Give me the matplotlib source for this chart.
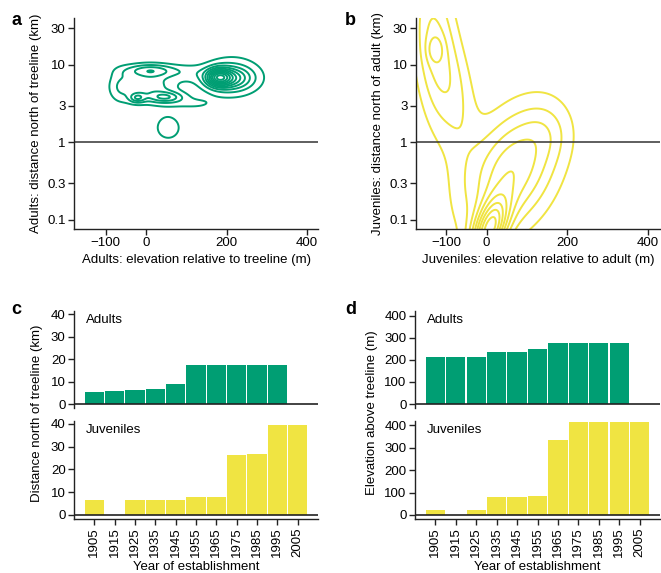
import numpy as np
import matplotlib
matplotlib.use("Agg")
import matplotlib.pyplot as plt
from matplotlib.ticker import FixedLocator, NullLocator

plt.rcParams['font.family'] = ['Liberation Sans', 'DejaVu Sans']
plt.rcParams['font.size'] = 9.5

GREEN = '#009E73'
YELLOW = '#F0E442'
DARK = '#222222'

# ---------------- data ----------------
years = [1905, 1915, 1925, 1935, 1945, 1955, 1965, 1975, 1985, 1995, 2005]
adult_dist = [5.5, 6.0, 6.3, 6.8, 9.0, 17.4, 17.4, 17.4, 17.4, 17.4, np.nan]
juv_dist = [6.4, np.nan, 6.4, 6.4, 6.4, 7.7, 7.7, 26.3, 26.7, 39.7, 39.7]
adult_elev = [213, 213, 213, 236, 236, 250, 278, 278, 278, 278, np.nan]
juv_elev = [21, np.nan, 21, 82, 82, 85, 337, 415, 415, 415, 415]

log_ticks = [0.1, 0.3, 1, 3, 10, 30]
log_ticklabels = ['0.1', '0.3', '1', '3', '10', '30']
elev_ticks = [-100, 0, 200, 400]

# density surfaces (smoothed estimates) as bumps in (elevation m, log10 km)
adult_mx = [10, 10, -22, 50, -65, 120, 105, 180, 205, 215, 55]
adult_my = [0.72, 0.93, 0.575, 0.585, 0.72, 0.5, 0.9, 0.84, 0.83, 0.85, 0.19]
adult_sx = [45, 45, 14, 30, 22, 40, 35, 20, 38, 55, 30]
adult_sy = [0.15, 0.06, 0.045, 0.05, 0.15, 0.06, 0.08, 0.075, 0.1, 0.2, 0.15]
adult_rho = [0, 0, 0, 0, 0, 0, 0, 0, 0, 0, 0]
adult_amp = [2.6, 3.0, 2.7, 3.0, 1.6, 1.0, 1.0, 5.5, 4.0, 2.0, 1.45]

juv_mx = [65, 5, 150, -128, -128, -70, -65]
juv_my = [-0.35, -1.15, 0.15, 1.25, 1.2, 0.6, -0.3]
juv_sx = [80, 32, 40, 38, 14, 35, 25]
juv_sy = [0.55, 0.29, 0.25, 0.75, 0.12, 0.5, 0.6]
juv_rho = [0.35, 0.5, 0.0, -0.3, 0.0, -0.3, 0.0]
juv_amp = [4.8, 8.0, 0.8, 3.25, 1.4, 1.3, 0.3]


def density(X, L, mx, my, sx, sy, rho, amp):
    Z = np.zeros_like(X)
    for a, b, s1, s2, r, w in zip(mx, my, sx, sy, rho, amp):
        dx = (X - a) / s1
        dy = (L - b) / s2
        Z += w * np.exp(-0.5 / (1 - r * r) * (dx * dx - 2 * r * dx * dy + dy * dy))
    return Z


W, H = 661, 573
fig = plt.figure(figsize=(W / 100, H / 100), dpi=100)


def ax_at(left, top, right, bottom):
    return fig.add_axes([left / W, 1 - bottom / H, (right - left) / W, (bottom - top) / H])


def style(ax, bottom=True):
    for s in ['top', 'right']:
        ax.spines[s].set_visible(False)
    for s in ['left', 'bottom']:
        ax.spines[s].set_color(DARK)
        ax.spines[s].set_linewidth(1.0)
    if not bottom:
        ax.spines['bottom'].set_visible(False)
    ax.tick_params(direction='out', length=4, width=1.0, color=DARK, pad=2, labelsize=9.5)


xg = np.linspace(-260, 520, 600)
lg = np.linspace(-1.6, 2.0, 600)
XG, LG = np.meshgrid(xg, lg)


def contour_panel(ax, Z, color, xlim, xlabel, ylabel):
    ax.contour(XG, 10 ** LG, Z, levels=np.arange(1, 14), colors=color, linewidths=1.4)
    ax.set_yscale('log')
    ax.set_xlim(*xlim)
    ax.set_ylim(0.0765, 40.4)
    ax.axhline(1, color='#333333', lw=1.1)
    style(ax)
    ax.yaxis.set_major_locator(FixedLocator(log_ticks))
    ax.yaxis.set_minor_locator(NullLocator())
    ax.set_yticklabels(log_ticklabels)
    ax.set_xticks(elev_ticks)
    ax.set_xticklabels(['\u2212100', '0', '200', '400'])
    ax.set_xlabel(xlabel, labelpad=3)
    ax.set_ylabel(ylabel, labelpad=4)


axa = ax_at(74, 18, 318, 229)
contour_panel(axa, density(XG, LG, adult_mx, adult_my, adult_sx, adult_sy, adult_rho, adult_amp),
              GREEN, (-179, 427), 'Adults: elevation relative to treeline (m)',
              'Adults: distance north of treeline (km)')

axb = ax_at(416, 18, 660, 229)
contour_panel(axb, density(XG, LG, juv_mx, juv_my, juv_sx, juv_sy, juv_rho, juv_amp),
              YELLOW, (-175, 430), 'Juveniles: elevation relative to adult (m)',
              'Juveniles: distance north of adult (km)')


def bar_panel(left, right, upper_vals, lower_vals, ylim_u, ylim_l, yticks):
    axu = ax_at(left, 310.7, right, 408.3)
    axl = ax_at(left, 421, right, 519)
    for ax, vals, col, lab, yl in [(axu, upper_vals, GREEN, 'Adults', ylim_u),
                                   (axl, lower_vals, YELLOW, 'Juveniles', ylim_l)]:
        ax.bar(years, vals, width=9.4, color=col, linewidth=0)
        ax.set_xlim(1895, 2015)
        ax.set_ylim(*yl)
        ax.axhline(0, color=DARK, lw=1.2, zorder=3)
        ax.set_yticks(yticks)
        ax.text(0.05, 0.965, lab, transform=ax.transAxes, ha='left', va='top', fontsize=9.5)
    style(axu, bottom=False)
    axu.set_xticks([])
    style(axl)
    axl.set_xticks(years)
    axl.set_xticklabels([str(y) for y in years], rotation=90, fontsize=9.5)
    axl.set_xlabel('Year of establishment', labelpad=3)
    return axu, axl


bar_panel(74, 318, adult_dist, juv_dist, (-1.9, 41.5), (-1.8, 41.3), [0, 10, 20, 30, 40])
bar_panel(415, 660, adult_elev, juv_elev, (-19, 422), (-18, 420), [0, 100, 200, 300, 400])

fig.text(37 / W, 1 - 413 / H, 'Distance north of treeline (km)', rotation=90,
         ha='center', va='center', fontsize=9.5)
fig.text(372 / W, 1 - 413 / H, 'Elevation above treeline (m)', rotation=90,
         ha='center', va='center', fontsize=9.5)

for lab, x, y in [('a', 11, 25), ('b', 345, 25), ('c', 11, 314), ('d', 345, 314)]:
    fig.text(x / W, 1 - y / H, lab, fontsize=13, fontweight='bold', ha='left', va='baseline')

fig.savefig('out.png', dpi=100)
